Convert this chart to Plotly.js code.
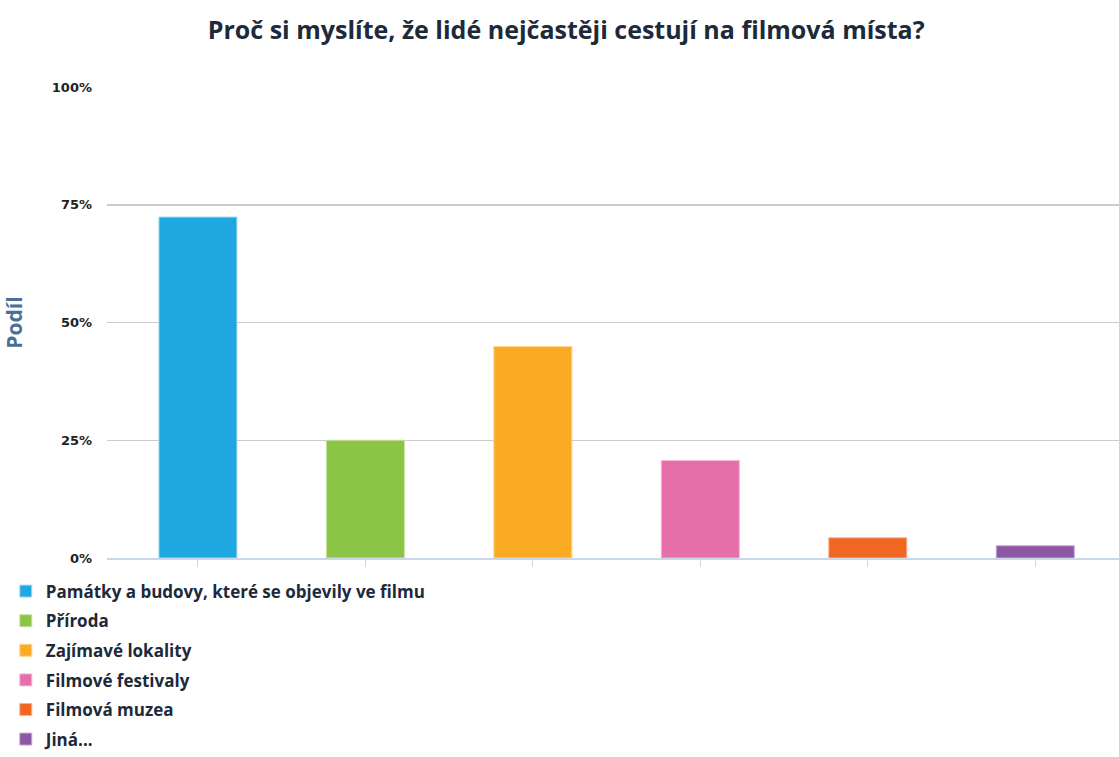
<!DOCTYPE html>
<html>
<head>
<meta charset="utf-8">
<script src="https://cdn.plot.ly/plotly-3.0.1.min.js"></script>
<style>html,body{margin:0;padding:0;background:#fff;}#chart{width:1119px;height:757px;}</style>
</head>
<body>
<div id="chart"></div>
<script>
const categories = [
  "Památky a budovy, které se objevily ve filmu",
  "Příroda",
  "Zajímavé lokality",
  "Filmové festivaly",
  "Filmová muzea",
  "Jiná..."
];
const values = [72.4, 25.0, 44.9, 20.7, 4.3, 2.6];
const colors = ["#1fa8df", "#8bc546", "#fbab23", "#e66faa", "#f06723", "#8e57a3"];
const borderColors = ["#a8dcf2", "#c6e2a2", "#fdd591", "#f3b7d4", "#f8b391", "#c6abd1"];
const yTicks = [0, 25, 50, 75, 100];

const traces = categories.map((c, i) => ({
  type: 'bar',
  name: c,
  x: [i],
  y: [values[i]],
  width: 0.466,
  legendgroup: 'g' + i,
  marker: {color: colors[i], line: {color: borderColors[i], width: 1}},
  hoverinfo: 'skip'
}));

const layout = {
  width: 1119, height: 757,
  margin: {l: 107, r: 0, t: 87, b: 199, autoexpand: false},
  paper_bgcolor: '#ffffff', plot_bgcolor: '#ffffff',
  font: {family: 'Open Sans, sans-serif', color: '#1c2a3a'},
  title: {
    text: 'Proč si myslíte, že lidé nejčastěji cestují na filmová místa?',
    x: 0.506, xanchor: 'center', y: 0.96, yanchor: 'middle',
    font: {size: 25, color: '#1c2a3a', family: 'Open Sans, sans-serif', weight: 700}
  },
  barmode: 'overlay',
  xaxis: {
    range: [-0.543, 5.5],
    tickvals: [0, 1, 2, 3, 4, 5],
    showticklabels: false,
    ticks: 'outside', ticklen: 7, tickcolor: '#c9d7e8', tickwidth: 1,
    showline: true, linecolor: '#c9d7e8', linewidth: 2,
    showgrid: false, zeroline: false, fixedrange: true
  },
  yaxis: {
    range: [0, 100],
    tickvals: yTicks,
    ticktext: yTicks.map(v => v + '%'),
    showgrid: true, gridcolor: '#cccccc', gridwidth: 1.5,
    zeroline: false, showline: false,
    ticks: '', ticklabelstandoff: 14,
    tickfont: {size: 13, color: '#222222', family: 'DejaVu Sans, sans-serif', weight: 700},
    title: {text: 'Podíl', standoff: 32, font: {size: 21, color: '#4a6f98', family: 'Open Sans, sans-serif', weight: 700}},
    fixedrange: true
  },
  showlegend: true,
  legend: {
    x: -0.1, xanchor: 'left', y: -0.033, yanchor: 'top',
    orientation: 'v',
    font: {size: 17, color: '#1c2a3a', family: 'Open Sans, sans-serif', weight: 700},
    tracegroupgap: 4.5, itemwidth: 30,
    maxheight: 400,
    bgcolor: 'rgba(0,0,0,0)'
  }
};

Plotly.newPlot('chart', traces, layout, {displayModeBar: false, staticPlot: true});
</script>
</body>
</html>
